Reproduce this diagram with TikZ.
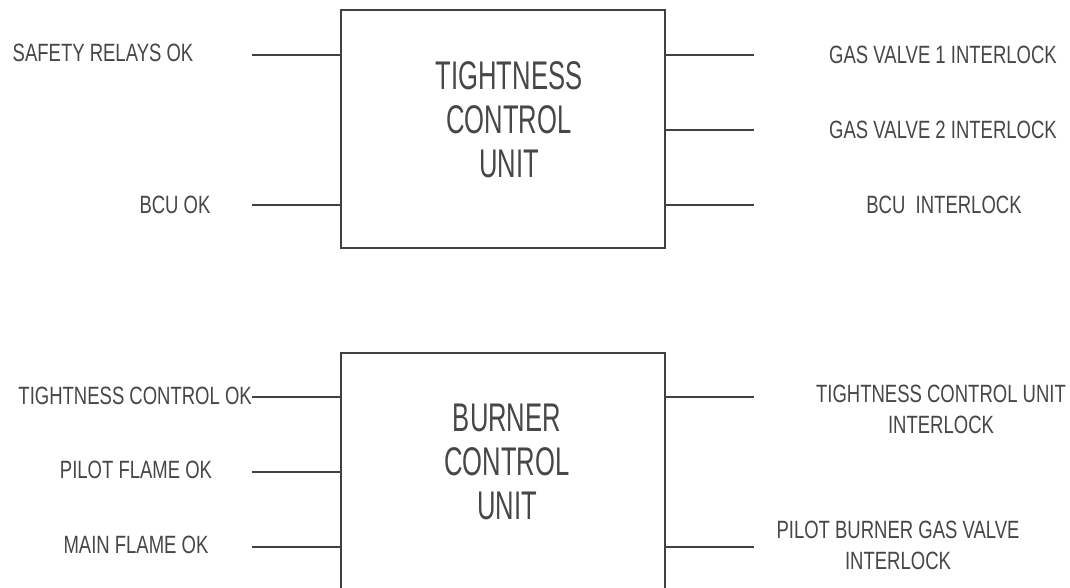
\documentclass[tikz,border=0pt]{standalone}
\usepackage{fontspec}
\newfontfamily\lblfont[FakeStretch=0.74]{Liberation Sans}
\newfontfamily\boxfont[FakeStretch=0.64]{Liberation Sans}
\definecolor{ink}{gray}{0.28}
\definecolor{wire}{gray}{0.25}
\begin{document}
\begin{tikzpicture}[x=1pt,y=-1pt,
  unitbox/.style={draw=wire,line width=1.3pt,rectangle,inner sep=0pt},
  boxtext/.style={inner sep=0pt,text=ink,align=center,font=\boxfont\fontsize{40}{44}\selectfont},
  sig/.style={inner sep=0pt,text=ink,align=center,font=\lblfont\fontsize{25}{31}\selectfont},
  wireline/.style={draw=wire,line width=1.2pt}]
\clip (0,0) rectangle (1070,587);
\fill[white] (0,0) rectangle (1070,587);
% boxes
\node[unitbox,minimum width=324pt,minimum height=238pt] (tcu) at (503,129) {};
\node[unitbox,minimum width=324pt,minimum height=247pt] (bcu) at (503,476.5) {};
\node[boxtext] (tcut) at (509,120) {TIGHTNESS\\CONTROL\\UNIT};
\node[boxtext] (bcut) at (507,462) {BURNER\\CONTROL\\UNIT};
% top box inputs
\node[sig] (sr) at (103,53) {SAFETY RELAYS OK};
\node[sig] (bok) at (175,205) {BCU OK};
\coordinate (i1) at (252,55);
\coordinate (i2) at (252,205);
\draw[wireline] (i1) -- (i1 -| tcu.west);
\draw[wireline] (i2) -- (i2 -| tcu.west);
% top box outputs
\coordinate (o1) at (754,55);
\coordinate (o2) at (754,130);
\coordinate (o3) at (754,205);
\draw[wireline] (o1 -| tcu.east) -- (o1);
\draw[wireline] (o2 -| tcu.east) -- (o2);
\draw[wireline] (o3 -| tcu.east) -- (o3);
\node[sig] (gv1) at (943,55) {GAS VALVE 1 INTERLOCK};
\node[sig] (gv2) at (943,130) {GAS VALVE 2 INTERLOCK};
\node[sig] (bil) at (944,205) {BCU\ \ INTERLOCK};
% bottom box inputs
\node[sig,anchor=east] (tco) at (252,396) {TIGHTNESS CONTROL OK};
\node[sig] (pfo) at (136,470) {PILOT FLAME OK};
\node[sig] (mfo) at (136,545) {MAIN FLAME OK};
\coordinate (j1) at (252,397);
\coordinate (j2) at (252,472);
\coordinate (j3) at (252,547);
\draw[wireline] (j1) -- (j1 -| bcu.west);
\draw[wireline] (j2) -- (j2 -| bcu.west);
\draw[wireline] (j3) -- (j3 -| bcu.west);
% bottom box outputs
\coordinate (p1) at (754,397);
\coordinate (p2) at (754,547);
\draw[wireline] (p1 -| bcu.east) -- (p1);
\draw[wireline] (p2 -| bcu.east) -- (p2);
\node[sig] (tcil) at (941,409) {TIGHTNESS CONTROL UNIT\\INTERLOCK};
\node[sig] (pbil) at (898,545) {PILOT BURNER GAS VALVE\\INTERLOCK};
\end{tikzpicture}
\end{document}
